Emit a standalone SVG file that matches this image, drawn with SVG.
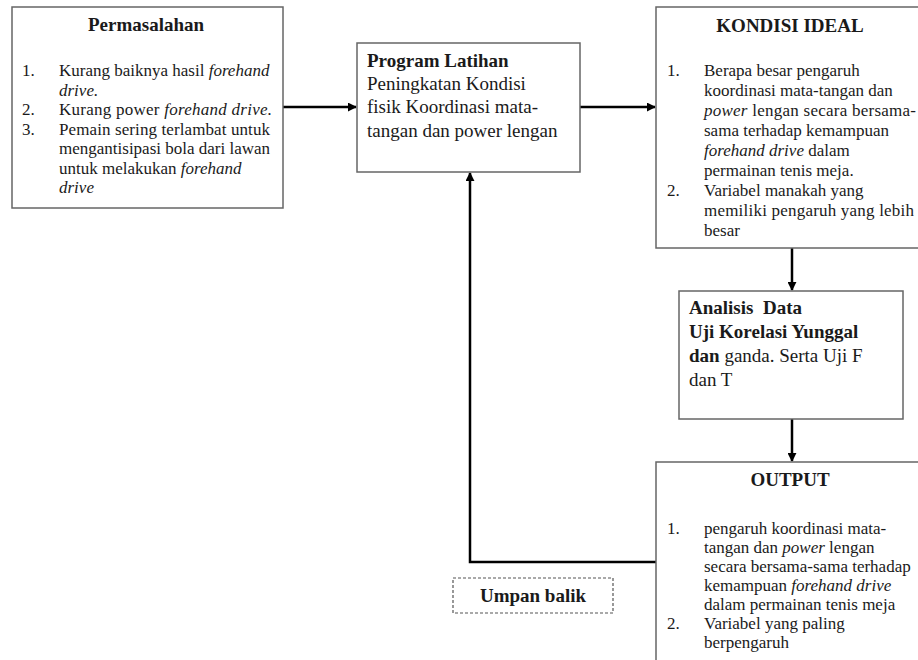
<svg xmlns="http://www.w3.org/2000/svg" width="918" height="660" viewBox="0 0 918 660">
<style>
.box{fill:#fff;stroke:#666;stroke-width:1.5}
.dash{fill:#fff;stroke:#555;stroke-width:1.2;stroke-dasharray:3 2}
text{font-family:"Liberation Serif","Times New Roman",serif;fill:#1a1a1a}
.t{font-size:19px;font-weight:bold}
.b{font-size:17px}
.p{font-size:19px}
.i{font-style:italic}
.bb{font-weight:bold}
.con{fill:none;stroke:#000;stroke-width:2.5}
</style>
<defs>
<marker id="ah" viewBox="0 0 10 10" refX="9" refY="5" markerWidth="3.6" markerHeight="3.6" orient="auto" markerUnits="strokeWidth">
<path d="M0,0 L10,5 L0,10 z" fill="#000"/>
</marker>
</defs>
<rect width="918" height="660" fill="#fff"/>
<g id="connectors">
<line class="con" x1="283" y1="107" x2="356" y2="107" marker-end="url(#ah)"/>
<line class="con" x1="580" y1="107" x2="655" y2="107" marker-end="url(#ah)"/>
<line class="con" x1="792" y1="248" x2="792" y2="290" marker-end="url(#ah)"/>
<line class="con" x1="792" y1="419" x2="792" y2="461" marker-end="url(#ah)"/>
<polyline class="con" points="656,562 470,562 470,173" marker-end="url(#ah)"/>
</g>
<g id="permasalahan">
<rect class="box" x="12" y="7" width="271" height="201"/>
<text class="t" x="146" y="31" text-anchor="middle">Permasalahan</text>
<text class="b" x="22" y="76">1.</text>
<text class="b" x="59" y="76">Kurang baiknya hasil <tspan class="i">forehand</tspan></text>
<text class="b i" x="59" y="95.5">drive.</text>
<text class="b" x="22" y="115">2.</text>
<text class="b" x="59" y="115" textLength="213" lengthAdjust="spacing">Kurang power <tspan class="i">forehand drive.</tspan></text>
<text class="b" x="22" y="134.5">3.</text>
<text class="b" x="59" y="134.5" textLength="211" lengthAdjust="spacing">Pemain sering terlambat untuk</text>
<text class="b" x="59" y="154">mengantisipasi bola dari lawan</text>
<text class="b" x="59" y="173.5">untuk melakukan <tspan class="i">forehand</tspan></text>
<text class="b i" x="59" y="193">drive</text>
</g>
<g id="program">
<rect class="box" x="357" y="43" width="223" height="129"/>
<text class="t" x="367" y="67">Program Latihan</text>
<text class="p" x="367" y="90">Peningkatan Kondisi</text>
<text class="p" x="367" y="113">fisik Koordinasi mata-</text>
<text class="p" x="367" y="137">tangan dan power lengan</text>
</g>
<g id="kondisi">
<rect class="box" x="656" y="7" width="270" height="241"/>
<text class="t" x="790" y="32" text-anchor="middle">KONDISI IDEAL</text>
<text class="b" x="667" y="76">1.</text>
<text class="b" x="704" y="76">Berapa besar pengaruh</text>
<text class="b" x="704" y="96">koordinasi mata-tangan  dan</text>
<text class="b" x="704" y="116" textLength="212" lengthAdjust="spacing"><tspan class="i">power</tspan> lengan  secara bersama-</text>
<text class="b" x="704" y="136">sama terhadap kemampuan</text>
<text class="b" x="704" y="156"><tspan class="i">forehand drive</tspan> dalam</text>
<text class="b" x="704" y="176">permainan  tenis meja.</text>
<text class="b" x="667" y="196">2.</text>
<text class="b" x="704" y="196">Variabel manakah  yang</text>
<text class="b" x="704" y="216" textLength="210" lengthAdjust="spacing">memiliki  pengaruh  yang  lebih</text>
<text class="b" x="704" y="236">besar</text>
</g>
<g id="analisis">
<rect class="box" x="679" y="291" width="224" height="128"/>
<text class="t" x="689" y="314" xml:space="preserve">Analisis  Data</text>
<text class="t" x="689" y="338">Uji Korelasi Yunggal</text>
<text class="p" x="689" y="362"><tspan class="bb">dan</tspan> ganda. Serta Uji F</text>
<text class="p" x="689" y="386">dan T</text>
</g>
<g id="output">
<rect class="box" x="656" y="462" width="270" height="210"/>
<text class="t" x="790" y="486" text-anchor="middle">OUTPUT</text>
<text class="b" x="667" y="534">1.</text>
<text class="b" x="704" y="534">pengaruh  koordinasi mata-</text>
<text class="b" x="704" y="553">tangan  dan <tspan class="i">power</tspan> lengan</text>
<text class="b" x="704" y="572">secara bersama-sama  terhadap</text>
<text class="b" x="704" y="591">kemampuan  <tspan class="i">forehand drive</tspan></text>
<text class="b" x="704" y="610">dalam permainan  tenis meja</text>
<text class="b" x="667" y="629">2.</text>
<text class="b" x="704" y="629">Variabel yang  paling</text>
<text class="b" x="704" y="648">berpengaruh</text>
</g>
<g id="umpan-balik">
<rect class="dash" x="453" y="578" width="160" height="35"/>
<text class="t" x="533" y="602" text-anchor="middle">Umpan balik</text>
</g>
</svg>
